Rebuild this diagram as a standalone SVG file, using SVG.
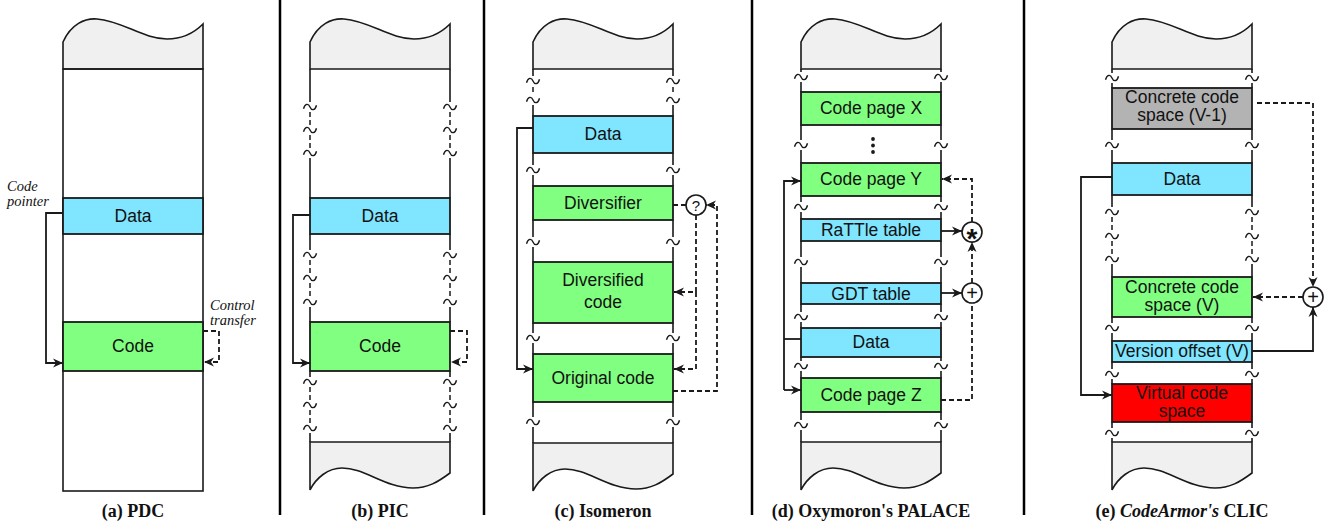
<svg xmlns="http://www.w3.org/2000/svg" xmlns:xlink="http://www.w3.org/1999/xlink" width="1331" height="529" viewBox="0 0 1331 529">
<style>
.col{stroke:#1a1a1a;stroke-width:1.6;fill:none}
.dcol{stroke:#1a1a1a;stroke-width:1.5;fill:none;stroke-dasharray:5 3}
.wave{fill:#f0f0f0;stroke:#1a1a1a;stroke-width:1.6}
.box{stroke:#1a1a1a;stroke-width:1.8}
.cy{fill:#80e5ff}
.gr{fill:#80ff80}
.gy{fill:#b3b3b3}
.rd{fill:#ff0000}
.lbl{font-family:"Liberation Sans",Arial,sans-serif;font-size:17.5px;fill:#111;text-anchor:middle}
.note{font-family:"Liberation Serif","Times New Roman",serif;font-style:italic;font-size:14.5px;fill:#111}
.cap{font-family:"Liberation Serif","Times New Roman",serif;font-weight:bold;font-size:18px;fill:#111;text-anchor:middle}
.sep{stroke:#000;stroke-width:2.5}
.tl{fill:none;stroke:#1a1a1a;stroke-width:1.4}
.ar{fill:none;stroke:#1a1a1a;stroke-width:1.8}
.ard{fill:none;stroke:#1a1a1a;stroke-width:1.8;stroke-dasharray:5 3}
.op{fill:#fff;stroke:#1a1a1a;stroke-width:1.6}
.sym{font-family:"Liberation Sans",Arial,sans-serif;fill:#111;text-anchor:middle}
</style>
<defs>
<marker id="ah" viewBox="0 0 10 10" refX="10" refY="5" markerWidth="10" markerHeight="10" markerUnits="userSpaceOnUse" orient="auto">
<path d="M0,0.5 L10,5 L0,9.5 L3,5 Z" fill="#1a1a1a" stroke="none"/>
</marker>
<path id="tilde" class="tl" d="M-6.5,1.8 C-5,-3.8 -1.6,-3.8 0,0 S5,3.8 6.5,-1.8"/>
</defs>
<rect width="1331" height="529" fill="#fff"/>

<g id="separators">
<line class="sep" x1="280" y1="0" x2="280" y2="515"/>
<line class="sep" x1="484" y1="0" x2="484" y2="515"/>
<line class="sep" x1="752" y1="0" x2="752" y2="515"/>
<line class="sep" x1="1024" y1="0" x2="1024" y2="515"/>
</g>

<!-- ================= Panel (a) ================= -->
<g id="panel-a">
<path class="wave" d="M63,69 L63,42 C71,24 85,18 97,19 C123,21 143,39 167,39 C183,39 195,32 203,24 L203,69 Z"/>
<rect class="col" x="63" y="69" width="140" height="422" fill="#fff"/>
</g>
<g id="a-data"><rect class="box cy" x="63" y="198" width="140" height="36"/><text class="lbl" x="133" y="222">Data</text></g>
<g id="a-code"><rect class="box gr" x="63" y="322" width="140" height="49"/><text class="lbl" x="133" y="352">Code</text></g>
<g id="a-notes">
<text class="note" x="7" y="191">Code</text>
<text class="note" x="7" y="206">pointer</text>
<text class="note" x="210" y="310">Control</text>
<text class="note" x="210" y="325">transfer</text>
</g>
<text class="cap" x="133" y="517">(a) PDC</text>

<!-- ================= Panel (b) ================= -->
<g id="panel-b">
<path class="wave" d="M310,69 L310,42 C318,24 332,18 344,19 C370,21 390,39 414,39 C430,39 442,32 450,24 L450,69 Z"/>
<path class="wave" d="M310,442 L450,442 L450,473 C438,482 428,488 413,488 C385,488 365,468 342,468 C328,468 316,478 310,490 Z"/>
<path class="col" d="M310,69 V102 M450,69 V102 M310,158 V198 M450,158 V198 M310,234 V250 M450,234 V250 M310,307 V322 M450,307 V322 M310,371 V377 M450,371 V377 M310,433 V442 M450,433 V442"/>
<path class="dcol" d="M310,112 V125 M450,112 V125 M310,135 V148 M450,135 V148 M310,260 V273 M450,260 V273 M310,283 V297 M450,283 V297 M310,387 V400 M450,387 V400 M310,410 V423 M450,410 V423"/>
<use xlink:href="#tilde" x="310" y="107"/><use xlink:href="#tilde" x="450" y="107"/>
<use xlink:href="#tilde" x="310" y="130"/><use xlink:href="#tilde" x="450" y="130"/>
<use xlink:href="#tilde" x="310" y="153"/><use xlink:href="#tilde" x="450" y="153"/>
<use xlink:href="#tilde" x="310" y="255"/><use xlink:href="#tilde" x="450" y="255"/>
<use xlink:href="#tilde" x="310" y="278"/><use xlink:href="#tilde" x="450" y="278"/>
<use xlink:href="#tilde" x="310" y="302"/><use xlink:href="#tilde" x="450" y="302"/>
<use xlink:href="#tilde" x="310" y="382"/><use xlink:href="#tilde" x="450" y="382"/>
<use xlink:href="#tilde" x="310" y="405"/><use xlink:href="#tilde" x="450" y="405"/>
<use xlink:href="#tilde" x="310" y="428"/><use xlink:href="#tilde" x="450" y="428"/>
</g>
<g id="b-data"><rect class="box cy" x="310" y="198" width="140" height="36"/><text class="lbl" x="380" y="222">Data</text></g>
<g id="b-code"><rect class="box gr" x="310" y="322" width="140" height="49"/><text class="lbl" x="380" y="352">Code</text></g>
<text class="cap" x="380" y="517">(b) PIC</text>

<!-- ================= Panel (c) ================= -->
<g id="panel-c">
<path class="wave" d="M533,69 L533,42 C541,24 555,18 567,19 C593,21 613,39 637,39 C653,39 665,32 673,24 L673,69 Z"/>
<path class="wave" d="M533,443 L673,443 L673,474 C661,483 651,489 636,489 C608,489 588,469 565,469 C551,469 539,479 533,491 Z"/>
<path class="col" d="M533,69 V76 M673,69 V76 M533,105 V116 M673,105 V116 M533,153 V165 M673,153 V165 M533,175 V186 M673,175 V186 M533,220 V237 M673,220 V237 M533,247 V262 M673,247 V262 M533,323 V333 M673,323 V333 M533,343 V354 M673,343 V354 M533,402 V417 M673,402 V417 M533,427 V443 M673,427 V443"/>
<path class="dcol" d="M533,87 V94 M673,87 V94"/>
<use xlink:href="#tilde" x="533" y="81"/><use xlink:href="#tilde" x="673" y="81"/>
<use xlink:href="#tilde" x="533" y="100"/><use xlink:href="#tilde" x="673" y="100"/>
<use xlink:href="#tilde" x="533" y="170"/><use xlink:href="#tilde" x="673" y="170"/>
<use xlink:href="#tilde" x="533" y="242"/><use xlink:href="#tilde" x="673" y="242"/>
<use xlink:href="#tilde" x="533" y="338"/><use xlink:href="#tilde" x="673" y="338"/>
<use xlink:href="#tilde" x="533" y="422"/><use xlink:href="#tilde" x="673" y="422"/>
</g>
<g id="c-data"><rect class="box cy" x="533" y="116" width="140" height="37"/><text class="lbl" x="603" y="140">Data</text></g>
<g id="c-diversifier"><rect class="box gr" x="533" y="186" width="140" height="34"/><text class="lbl" x="603" y="209">Diversifier</text></g>
<g id="c-diversified"><rect class="box gr" x="533" y="262" width="140" height="61"/><text class="lbl" x="603" y="286">Diversified</text><text class="lbl" x="603" y="308">code</text></g>
<g id="c-original"><rect class="box gr" x="533" y="354" width="140" height="48"/><text class="lbl" x="603" y="384">Original code</text></g>
<g id="c-q"><circle class="op" cx="696" cy="205" r="10"/><text class="sym" x="696" y="210.5" font-size="15">?</text></g>
<text class="cap" x="603" y="517">(c) Isomeron</text>

<!-- ================= Panel (d) ================= -->
<g id="panel-d">
<path class="wave" d="M801,69 L801,42 C809,24 823,18 835,19 C861,21 881,39 905,39 C921,39 933,32 941,24 L941,69 Z"/>
<path class="wave" d="M801,442 L941,442 L941,473 C929,482 919,488 904,488 C876,488 856,468 833,468 C819,468 807,478 801,490 Z"/>
<path class="col" d="M801,69 V72 M941,69 V72 M801,82 V92 M941,82 V92 M801,125 V140 M941,125 V140 M801,150 V163 M941,150 V163 M801,196 V202 M941,196 V202 M801,212 V219 M941,212 V219 M801,241 V257 M941,241 V257 M801,267 V283 M941,267 V283 M801,304 V312 M941,304 V312 M801,322 V328 M941,322 V328 M801,357 V361 M941,357 V361 M801,371 V378 M941,371 V378 M801,412 V420 M941,412 V420 M801,430 V442 M941,430 V442"/>
<use xlink:href="#tilde" x="801" y="77"/><use xlink:href="#tilde" x="941" y="77"/>
<use xlink:href="#tilde" x="801" y="145"/><use xlink:href="#tilde" x="941" y="145"/>
<use xlink:href="#tilde" x="801" y="207"/><use xlink:href="#tilde" x="941" y="207"/>
<use xlink:href="#tilde" x="801" y="262"/><use xlink:href="#tilde" x="941" y="262"/>
<use xlink:href="#tilde" x="801" y="317"/><use xlink:href="#tilde" x="941" y="317"/>
<use xlink:href="#tilde" x="801" y="366"/><use xlink:href="#tilde" x="941" y="366"/>
<use xlink:href="#tilde" x="801" y="425"/><use xlink:href="#tilde" x="941" y="425"/>
<circle cx="873" cy="139" r="1.9" fill="#1a1a1a"/><circle cx="873" cy="145.5" r="1.9" fill="#1a1a1a"/><circle cx="873" cy="152" r="1.9" fill="#1a1a1a"/>
</g>
<g id="d-cpx"><rect class="box gr" x="801" y="92" width="140" height="33"/><text class="lbl" x="871" y="114">Code page X</text></g>
<g id="d-cpy"><rect class="box gr" x="801" y="163" width="140" height="33"/><text class="lbl" x="871" y="185">Code page Y</text></g>
<g id="d-rattle"><rect class="box cy" x="801" y="219" width="140" height="22"/><text class="lbl" x="871" y="236">RaTTle table</text></g>
<g id="d-gdt"><rect class="box cy" x="801" y="283" width="140" height="21"/><text class="lbl" x="871" y="300">GDT table</text></g>
<g id="d-data"><rect class="box cy" x="801" y="328" width="140" height="29"/><text class="lbl" x="871" y="348">Data</text></g>
<g id="d-cpz"><rect class="box gr" x="801" y="378" width="140" height="34"/><text class="lbl" x="871" y="401">Code page Z</text></g>
<g id="d-mul"><circle class="op" cx="972" cy="232" r="10"/><text class="sym" x="972" y="248" font-size="28" font-weight="bold">*</text></g>
<g id="d-add"><circle class="op" cx="972" cy="293" r="10"/><text class="sym" x="972" y="300" font-size="20">+</text></g>
<text class="cap" x="871" y="517">(d) Oxymoron's PALACE</text>

<!-- ================= Panel (e) ================= -->
<g id="panel-e">
<path class="wave" d="M1112,69 L1112,42 C1120,24 1134,18 1146,19 C1172,21 1192,39 1216,39 C1232,39 1244,32 1252,24 L1252,69 Z"/>
<path class="wave" d="M1112,442 L1252,442 L1252,473 C1240,482 1230,488 1215,488 C1187,488 1167,468 1144,468 C1130,468 1118,478 1112,490 Z"/>
<path class="col" d="M1112,69 V73 M1252,69 V73 M1112,83 V88 M1252,83 V88 M1112,129 V140 M1252,129 V140 M1112,150 V163 M1252,150 V163 M1112,195 V207 M1252,195 V207 M1112,264 V277 M1252,264 V277 M1112,317 V323 M1252,317 V323 M1112,333 V341 M1252,333 V341 M1112,362 V369 M1252,362 V369 M1112,379 V384 M1252,379 V384 M1112,422 V428 M1252,422 V428 M1112,438 V442 M1252,438 V442"/>
<path class="dcol" d="M1112,217 V231 M1252,217 V231 M1112,241 V254 M1252,241 V254"/>
<use xlink:href="#tilde" x="1112" y="78"/><use xlink:href="#tilde" x="1252" y="78"/>
<use xlink:href="#tilde" x="1112" y="145"/><use xlink:href="#tilde" x="1252" y="145"/>
<use xlink:href="#tilde" x="1112" y="212"/><use xlink:href="#tilde" x="1252" y="212"/>
<use xlink:href="#tilde" x="1112" y="236"/><use xlink:href="#tilde" x="1252" y="236"/>
<use xlink:href="#tilde" x="1112" y="259"/><use xlink:href="#tilde" x="1252" y="259"/>
<use xlink:href="#tilde" x="1112" y="328"/><use xlink:href="#tilde" x="1252" y="328"/>
<use xlink:href="#tilde" x="1112" y="374"/><use xlink:href="#tilde" x="1252" y="374"/>
<use xlink:href="#tilde" x="1112" y="433"/><use xlink:href="#tilde" x="1252" y="433"/>
</g>
<g id="e-ccs-prev"><rect class="box gy" x="1112" y="88" width="140" height="41"/><text class="lbl" x="1182" y="103">Concrete code</text><text class="lbl" x="1182" y="121">space (V-1)</text></g>
<g id="e-data"><rect class="box cy" x="1112" y="163" width="140" height="32"/><text class="lbl" x="1182" y="185">Data</text></g>
<g id="e-ccs"><rect class="box gr" x="1112" y="277" width="140" height="40"/><text class="lbl" x="1182" y="293">Concrete code</text><text class="lbl" x="1182" y="311">space (V)</text></g>
<g id="e-offset"><rect class="box cy" x="1112" y="341" width="140" height="21"/><text class="lbl" x="1182" y="357">Version offset (V)</text></g>
<g id="e-virtual"><rect class="box rd" x="1112" y="384" width="140" height="38"/><text class="lbl" x="1182" y="399">Virtual code</text><text class="lbl" x="1182" y="417">space</text></g>
<g id="e-add"><circle class="op" cx="1313" cy="297" r="10"/><text class="sym" x="1313" y="304" font-size="20">+</text></g>
<text class="cap" x="1182" y="517">(e) <tspan font-style="italic">CodeArmor's</tspan> CLIC</text>

<!-- ================= Connectors ================= -->
<g id="connectors">
<path class="ar" d="M63,213 H46 V363 H63" marker-end="url(#ah)"/>
<path class="ard" d="M203,331 H219 V362 H204" marker-end="url(#ah)"/>
<path class="ar" d="M310,215 H293 V363 H310" marker-end="url(#ah)"/>
<path class="ard" d="M450,331 H467 V362 H451" marker-end="url(#ah)"/>

<path class="ar" d="M533,128 H517 V369 H533" marker-end="url(#ah)"/>
<path class="ard" d="M673,205 H686"/>
<path class="ard" d="M696,215 V292 H674" marker-end="url(#ah)"/>
<path class="ard" d="M696,292 V369 H674" marker-end="url(#ah)"/>
<path class="ard" d="M673,391 H717 V205 H706" marker-end="url(#ah)"/>

<path class="ar" d="M801,339 H784"/>
<path class="ar" d="M784,390 V181 H801" marker-end="url(#ah)"/>
<path class="ar" d="M784,390 H801" marker-end="url(#ah)"/>
<path class="ar" d="M941,231 H962" marker-end="url(#ah)"/>
<path class="ar" d="M941,293 H962" marker-end="url(#ah)"/>
<path class="ard" d="M941,400 H972 V303"/>
<path class="ard" d="M972,283 V242" marker-end="url(#ah)"/>
<path class="ard" d="M972,222 V179 H942" marker-end="url(#ah)"/>

<path class="ard" d="M1257,103 H1313 V287" marker-end="url(#ah)"/>
<path class="ard" d="M1303,297 H1253" marker-end="url(#ah)"/>
<path class="ar" d="M1252,351 H1313 V307" marker-end="url(#ah)"/>
<path class="ar" d="M1112,177 H1081 V395 H1112" marker-end="url(#ah)"/>
</g>
</svg>
